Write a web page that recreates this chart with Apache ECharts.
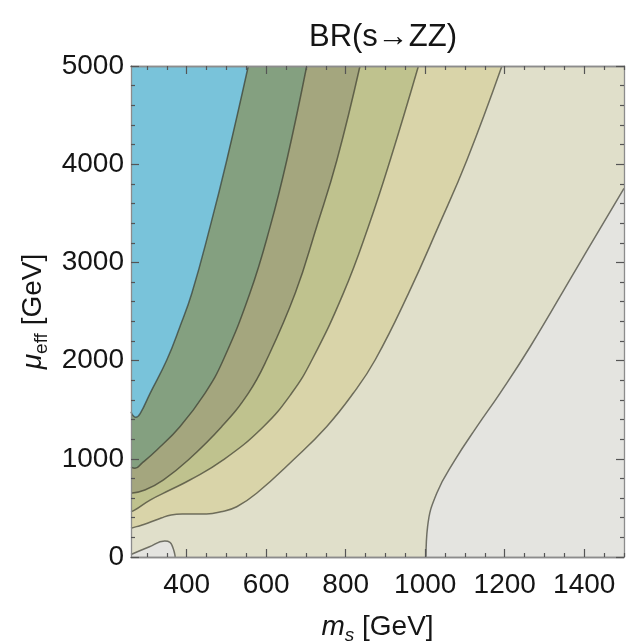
<!DOCTYPE html>
<html>
<head>
<meta charset="utf-8">
<title>BR(s→ZZ)</title>
<script src="https://cdn.jsdelivr.net/npm/echarts@6/dist/echarts.min.js"></script>
<style>
  html, body { margin: 0; padding: 0; background: #fff; }
  #chart { width: 630px; height: 642px; }
</style>
</head>
<body>
<div id="chart"></div>
<script>
// axis ticks
const xTicks = [400, 600, 800, 1000, 1200, 1400];
const xMinorTicks = [300, 350, 450, 500, 550, 650, 700, 750, 850, 900, 950,
  1050, 1100, 1150, 1250, 1300, 1350, 1450, 1500];
const yTicks = [0, 1000, 2000, 3000, 4000, 5000];

// contour lines, [m_s, mu_eff] in GeV
const contour0 = [[1002, 0], [1006, 309], [1029, 649], [1075, 988], [1130, 1327], [1188, 1667],
  [1264, 2141], [1380, 2935], [1500, 3754]];
const blob0 = [[260, 25], [305, 102], [345, 162], [358, 150], [365, 100], [370, 30], [371, 0]];
const contour1 = [[260, 292], [274, 309], [303, 346], [336, 397], [361, 428], [392, 437], [450, 438],
  [486, 460], [526, 512], [576, 649], [668, 988], [752, 1327], [819, 1667], [874, 2006], [958, 2685],
  [1033, 3364], [1105, 4043], [1193, 5000]];
const contour2 = [[260, 461], [270, 479], [308, 580], [358, 682], [408, 784], [492, 988], [593, 1327],
  [664, 1667], [715, 2006], [794, 2685], [857, 3364], [912, 4043], [983, 5000]];
const contour3 = [[260, 649], [295, 682], [341, 784], [404, 988], [488, 1327], [555, 1667], [601, 2006],
  [673, 2685], [727, 3364], [778, 4043], [836, 5000]];
const contour4 = [[260, 915], [270, 903], [287, 954], [325, 1090], [383, 1327], [446, 1667], [492, 2006],
  [559, 2685], [610, 3364], [652, 4043], [702, 5000]];
const contour5 = [[260, 1480], [265, 1440], [272, 1422], [283, 1460], [308, 1667], [350, 2006],
  [383, 2345], [413, 2685], [459, 3364], [501, 4043], [555, 5000]];

const FONT = '"Liberation Sans", Arial, Helvetica, sans-serif';
const TEXT = '#151515';
const lineColor = 'rgba(50,50,40,0.65)';

// band fills: below contour0 is grey, above contour k is colour k
const bands = [
  { data: contour0, color: '#e4e4e0', origin: 'start' },
  { data: blob0, color: '#e4e4e0', origin: 'start' },
  { data: contour1, color: '#d9d4a9', origin: 'end' },
  { data: contour2, color: '#bfc28e', origin: 'end' },
  { data: contour3, color: '#a4a67e', origin: 'end' },
  { data: contour4, color: '#84a080', origin: 'end' },
  { data: contour5, color: '#79c3da', origin: 'end' }
];

const chart = echarts.init(document.getElementById('chart'));

const frameLine = { show: true, onZero: false, lineStyle: { color: '#8c8c8c', width: 1.3 } };
const tickStyle = { color: '#555555', width: 1.2 };

function xAxisPart(pos, values, len, labels) {
  return {
    type: 'value', min: 260, max: 1500, position: pos, z: 10,
    axisLine: frameLine,
    splitLine: { show: false },
    axisTick: { show: true, inside: true, length: len, customValues: values, lineStyle: tickStyle },
    axisLabel: labels ? {
      show: true, customValues: values, margin: 14,
      color: TEXT, fontSize: 28, fontFamily: FONT,
      formatter: function (v) { return String(v); }
    } : { show: false }
  };
}

function yAxisPart(pos, labels) {
  return {
    type: 'value', min: 0, max: 5000, interval: 1000, position: pos, z: 10,
    axisLine: frameLine,
    splitLine: { show: false },
    axisTick: { show: true, inside: true, length: 8, lineStyle: tickStyle },
    minorTick: { show: true, splitNumber: 5, length: 4, lineStyle: tickStyle },
    axisLabel: labels ? {
      show: true, margin: 7, color: TEXT, fontSize: 28, fontFamily: FONT,
      formatter: function (v) { return String(v); }
    } : { show: false }
  };
}

const richName = function (subItalic) {
  return {
    i: { fontSize: 28, fontStyle: 'italic', lineHeight: 36, fontFamily: FONT, color: TEXT },
    s: { fontSize: 19, fontStyle: subItalic ? 'italic' : 'normal', lineHeight: 36,
         verticalAlign: 'bottom', fontFamily: FONT, color: TEXT },
    n: { fontSize: 28, lineHeight: 36, fontFamily: FONT, color: TEXT }
  };
};

const xAxes = [
  xAxisPart('bottom', xTicks, 8, true),
  xAxisPart('bottom', xMinorTicks, 4, false),
  xAxisPart('top', xTicks, 8, false),
  xAxisPart('top', xMinorTicks, 4, false)
];
xAxes[0].name = '{i|m}{s|s}{n| [GeV]}';
xAxes[0].nameLocation = 'middle';
xAxes[0].nameGap = 52;
xAxes[0].nameTextStyle = { color: TEXT, fontFamily: FONT, rich: richName(true) };

const yAxes = [yAxisPart('left', true), yAxisPart('right', false)];
yAxes[0].name = '{i|μ}{s|eff}{n| [GeV]}';
yAxes[0].nameLocation = 'middle';
yAxes[0].nameRotate = 90;
yAxes[0].nameGap = 80;
yAxes[0].nameTextStyle = { color: TEXT, fontFamily: FONT, rich: richName(false) };

const option = {
  backgroundColor: '#ffffff',
  animation: false,
  title: {
    text: 'BR(s→ZZ)',
    left: 378, top: 17, textAlign: 'center',
    textStyle: { fontSize: 31, fontWeight: 'normal', color: TEXT, fontFamily: FONT }
  },
  grid: {
    left: 131, right: 6, top: 66, bottom: 85,
    outerBoundsMode: 'none',
    show: true, backgroundColor: '#e0dfca', borderWidth: 0
  },
  xAxis: xAxes,
  yAxis: yAxes,
  series: bands.map(function (b) {
    return {
      type: 'line',
      xAxisIndex: 0, yAxisIndex: 0,
      data: b.data,
      smooth: 0.45,
      symbol: 'none',
      silent: true,
      clip: true,
      z: 2,
      lineStyle: { color: lineColor, width: 1.5 },
      areaStyle: { color: b.color, opacity: 1, origin: b.origin }
    };
  })
};

chart.setOption(option);
</script>
</body>
</html>
